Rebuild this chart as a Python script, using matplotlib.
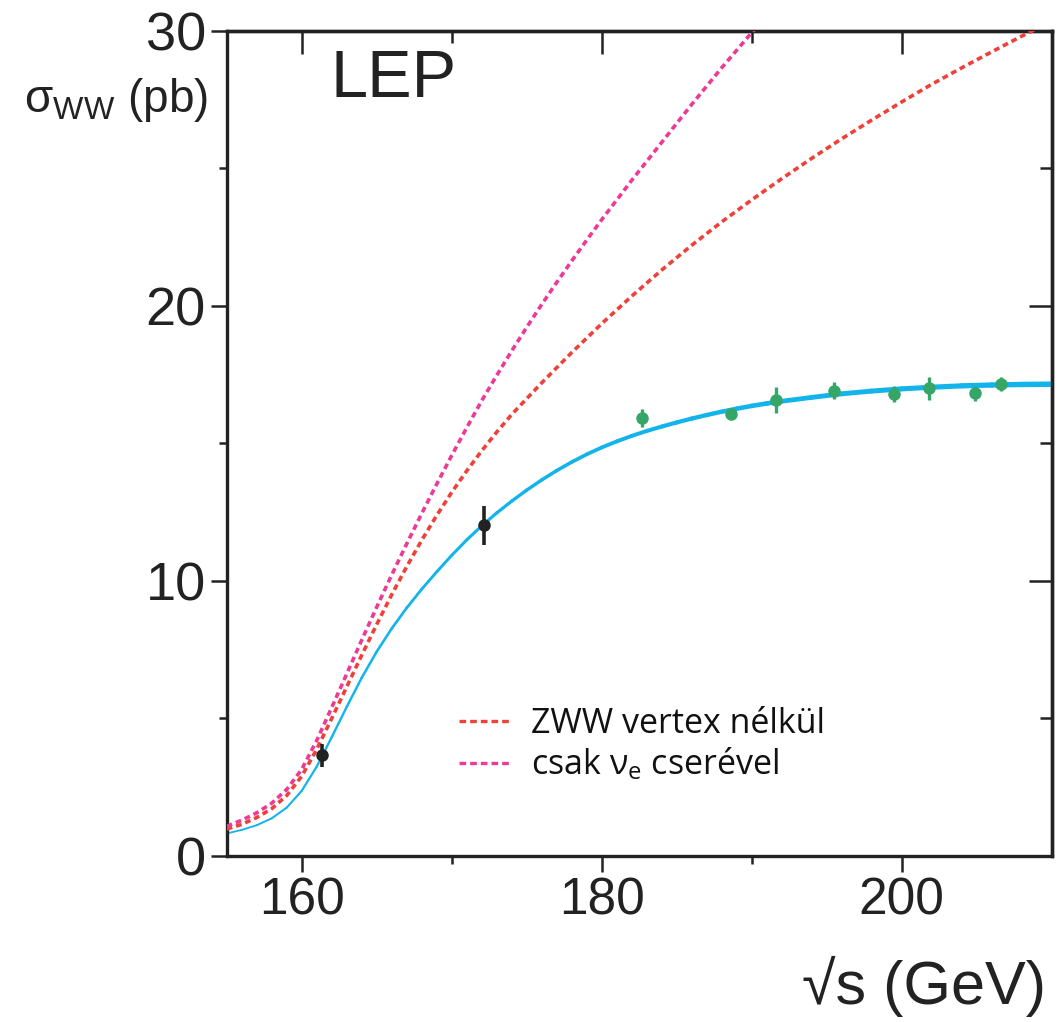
import matplotlib.pyplot as plt
import numpy as np
from matplotlib.collections import LineCollection
from matplotlib.lines import Line2D

# ---- data ----
# Standard Model prediction (solid cyan)
sm_e = [155, 156, 157, 158, 159, 160, 161, 162, 163, 164, 165, 166, 167, 168,
        169, 170, 171, 172, 173, 174, 175, 176, 177, 178, 179, 180, 181, 182,
        183, 184, 185, 186, 187, 188, 189, 190, 191, 192, 194, 196, 198, 200,
        202, 204, 206, 208, 210]
sm_xs = [0.82, 0.95, 1.12, 1.37, 1.76, 2.37, 3.25, 4.32, 5.42, 6.48, 7.43, 8.27, 9.02, 9.7,
         10.33, 10.93, 11.49, 12.0, 12.47, 12.9, 13.3, 13.67, 14.01, 14.32, 14.6, 14.85,
         15.07, 15.27, 15.45, 15.61, 15.76, 15.9, 16.03, 16.15, 16.26, 16.36, 16.45, 16.53,
         16.67, 16.8, 16.9, 16.98, 17.04, 17.09, 17.12, 17.14, 17.15]

# without ZWW vertex (red dotted)
nozww_e = [155, 156, 157, 158, 159, 160, 161, 162, 163, 164, 165, 166, 167, 168,
           169, 170, 171, 172, 173, 174, 176, 178, 180, 182, 184, 186, 188, 190,
           192, 194, 196, 198, 200, 202, 204, 206, 208, 210]
nozww_xs = [0.98, 1.15, 1.4, 1.72, 2.2, 2.9, 3.88, 5.0, 6.15, 7.3, 8.42, 9.5, 10.52, 11.48,
            12.38, 13.22, 14.0, 14.73, 15.41, 16.05, 17.2, 18.3, 19.35, 20.35, 21.3, 22.2,
            23.05, 23.85, 24.62, 25.36, 26.07, 26.75, 27.41, 28.05, 28.65, 29.23, 29.8, 30.35]

# only nu_e exchange (magenta dotted)
nue_e = [155, 156, 157, 158, 159, 160, 161, 162, 163, 164, 165, 166, 167, 168,
         169, 170, 171, 172, 173, 174, 175, 176, 177, 178, 179, 180, 182, 184,
         186, 188, 190, 191]
nue_xs = [1.08, 1.3, 1.57, 1.92, 2.42, 3.15, 4.2, 5.4, 6.62, 7.85, 9.05, 10.22, 11.35, 12.45,
          13.52, 14.56, 15.57, 16.55, 17.47, 18.36, 19.22, 20.05, 20.85, 21.63, 22.39, 23.13,
          24.56, 25.94, 27.32, 28.65, 29.93, 30.55]

# LEP measurements
early_e = [161.33, 172.15]
early_xs = [3.67, 12.02]
early_err = [0.42, 0.7]

lep2_e = [182.66, 188.63, 191.6, 195.5, 199.5, 201.8, 204.9, 206.6]
lep2_xs = [15.92, 16.06, 16.58, 16.92, 16.79, 17.0, 16.82, 17.16]
lep2_err = [0.33, 0.18, 0.47, 0.30, 0.28, 0.41, 0.28, 0.24]

labels = ['ZWW vertex nélkül', r'csak $\mathregular{\nu_e}$ cserével']

# ---- colours ----
c_sm = '#12b4ea'
c_red = '#f0403a'
c_mag = '#ec3a96'
c_green = '#36a668'
c_black = '#222222'

plt.rcParams['font.family'] = ['Liberation Sans', 'DejaVu Sans']

fig = plt.figure(figsize=(10.57, 10.22), dpi=100)
ax = fig.add_axes([0.2145, 0.1624, 0.7805, 0.8076])

# SM band: line gets thicker with energy
pts = np.column_stack([sm_e, sm_xs])
segs = np.stack([pts[:-1], pts[1:]], axis=1)
widths = np.linspace(1.3, 3.9, len(segs))
lc = LineCollection(segs, linewidths=widths, colors=c_sm, capstyle='round',
                    joinstyle='round', zorder=2)
ax.add_collection(lc)

dash = (1.6, 1.1)
ax.plot(nozww_e, nozww_xs, color=c_red, lw=2.6, linestyle=(0, dash), zorder=3)
ax.plot(nue_e, nue_xs, color=c_mag, lw=2.6, linestyle=(0, dash), zorder=3)

ax.errorbar(lep2_e, lep2_xs, yerr=lep2_err, fmt='o', color=c_green, ms=8,
            elinewidth=2.4, capsize=0, zorder=4)
ax.errorbar(early_e, early_xs, yerr=early_err, fmt='o', color=c_black, ms=8,
            elinewidth=2.6, capsize=0, zorder=4)

ax.set_xlim(155, 210)
ax.set_ylim(0, 30)
ax.set_xticks([160, 180, 200])
ax.set_xticks([170, 190], minor=True)
ax.set_yticks([0, 10, 20, 30])
ax.set_yticks([5, 15, 25], minor=True)

for s in ax.spines.values():
    s.set_linewidth(2.4)
    s.set_color(c_black)

ax.tick_params(which='major', direction='out', length=11.5, width=1.8, color=c_black,
               labelcolor=c_black, top=False, right=False)
ax.tick_params(which='minor', direction='out', length=5.8, width=1.8, color=c_black,
               top=False, right=False)
ax.tick_params(axis='x', which='major', pad=3, labelsize=37)
ax.tick_params(axis='y', which='major', pad=3.5, labelsize=39)

# inward ticks on the top and right frame
top = ax.secondary_xaxis('top')
top.set_xticks([160, 180, 200])
top.set_xticks([170, 190], minor=True)
top.tick_params(which='major', direction='in', length=16.5, width=1.8, color=c_black, labeltop=False)
top.tick_params(which='minor', direction='in', length=8.6, width=1.8, color=c_black)
top.spines['top'].set_linewidth(2.4)
right = ax.secondary_yaxis('right')
right.set_yticks([0, 10, 20, 30])
right.set_yticks([5, 15, 25], minor=True)
right.tick_params(which='major', direction='in', length=16.5, width=1.8, color=c_black, labelright=False)
right.tick_params(which='minor', direction='in', length=8.6, width=1.8, color=c_black)
right.spines['right'].set_linewidth(2.4)

# legend
handles = [Line2D([], [], color=c_red, lw=2.4, linestyle=(0, (2.0, 1.2))),
           Line2D([], [], color=c_mag, lw=2.4, linestyle=(0, (2.0, 1.2)))]
leg = ax.legend(handles, labels, loc='upper left', bbox_to_anchor=(0.281, 0.181),
                frameon=False, handlelength=1.56, handletextpad=0.56, labelspacing=0.15,
                borderpad=0, borderaxespad=0,
                prop={'family': ['Open Sans', 'DejaVu Sans'], 'size': 24.5})
for t in leg.get_texts():
    t.set_color('#111111')

# texts
fig.text(331 / 1057, 1 - 97 / 1022, 'LEP', fontsize=48, color=c_black, ha='left', va='baseline')
fig.text(208 / 1057, 1 - 100 / 1022, r'$\mathregular{\sigma_{WW}}$ (pb)', fontsize=33,
         color=c_black, ha='right', va='center')
fig.text(1046 / 1057, 18 / 1022, '√s (GeV)', fontsize=44, color=c_black,
         ha='right', va='baseline')

fig.savefig('out.png', dpi=100)
